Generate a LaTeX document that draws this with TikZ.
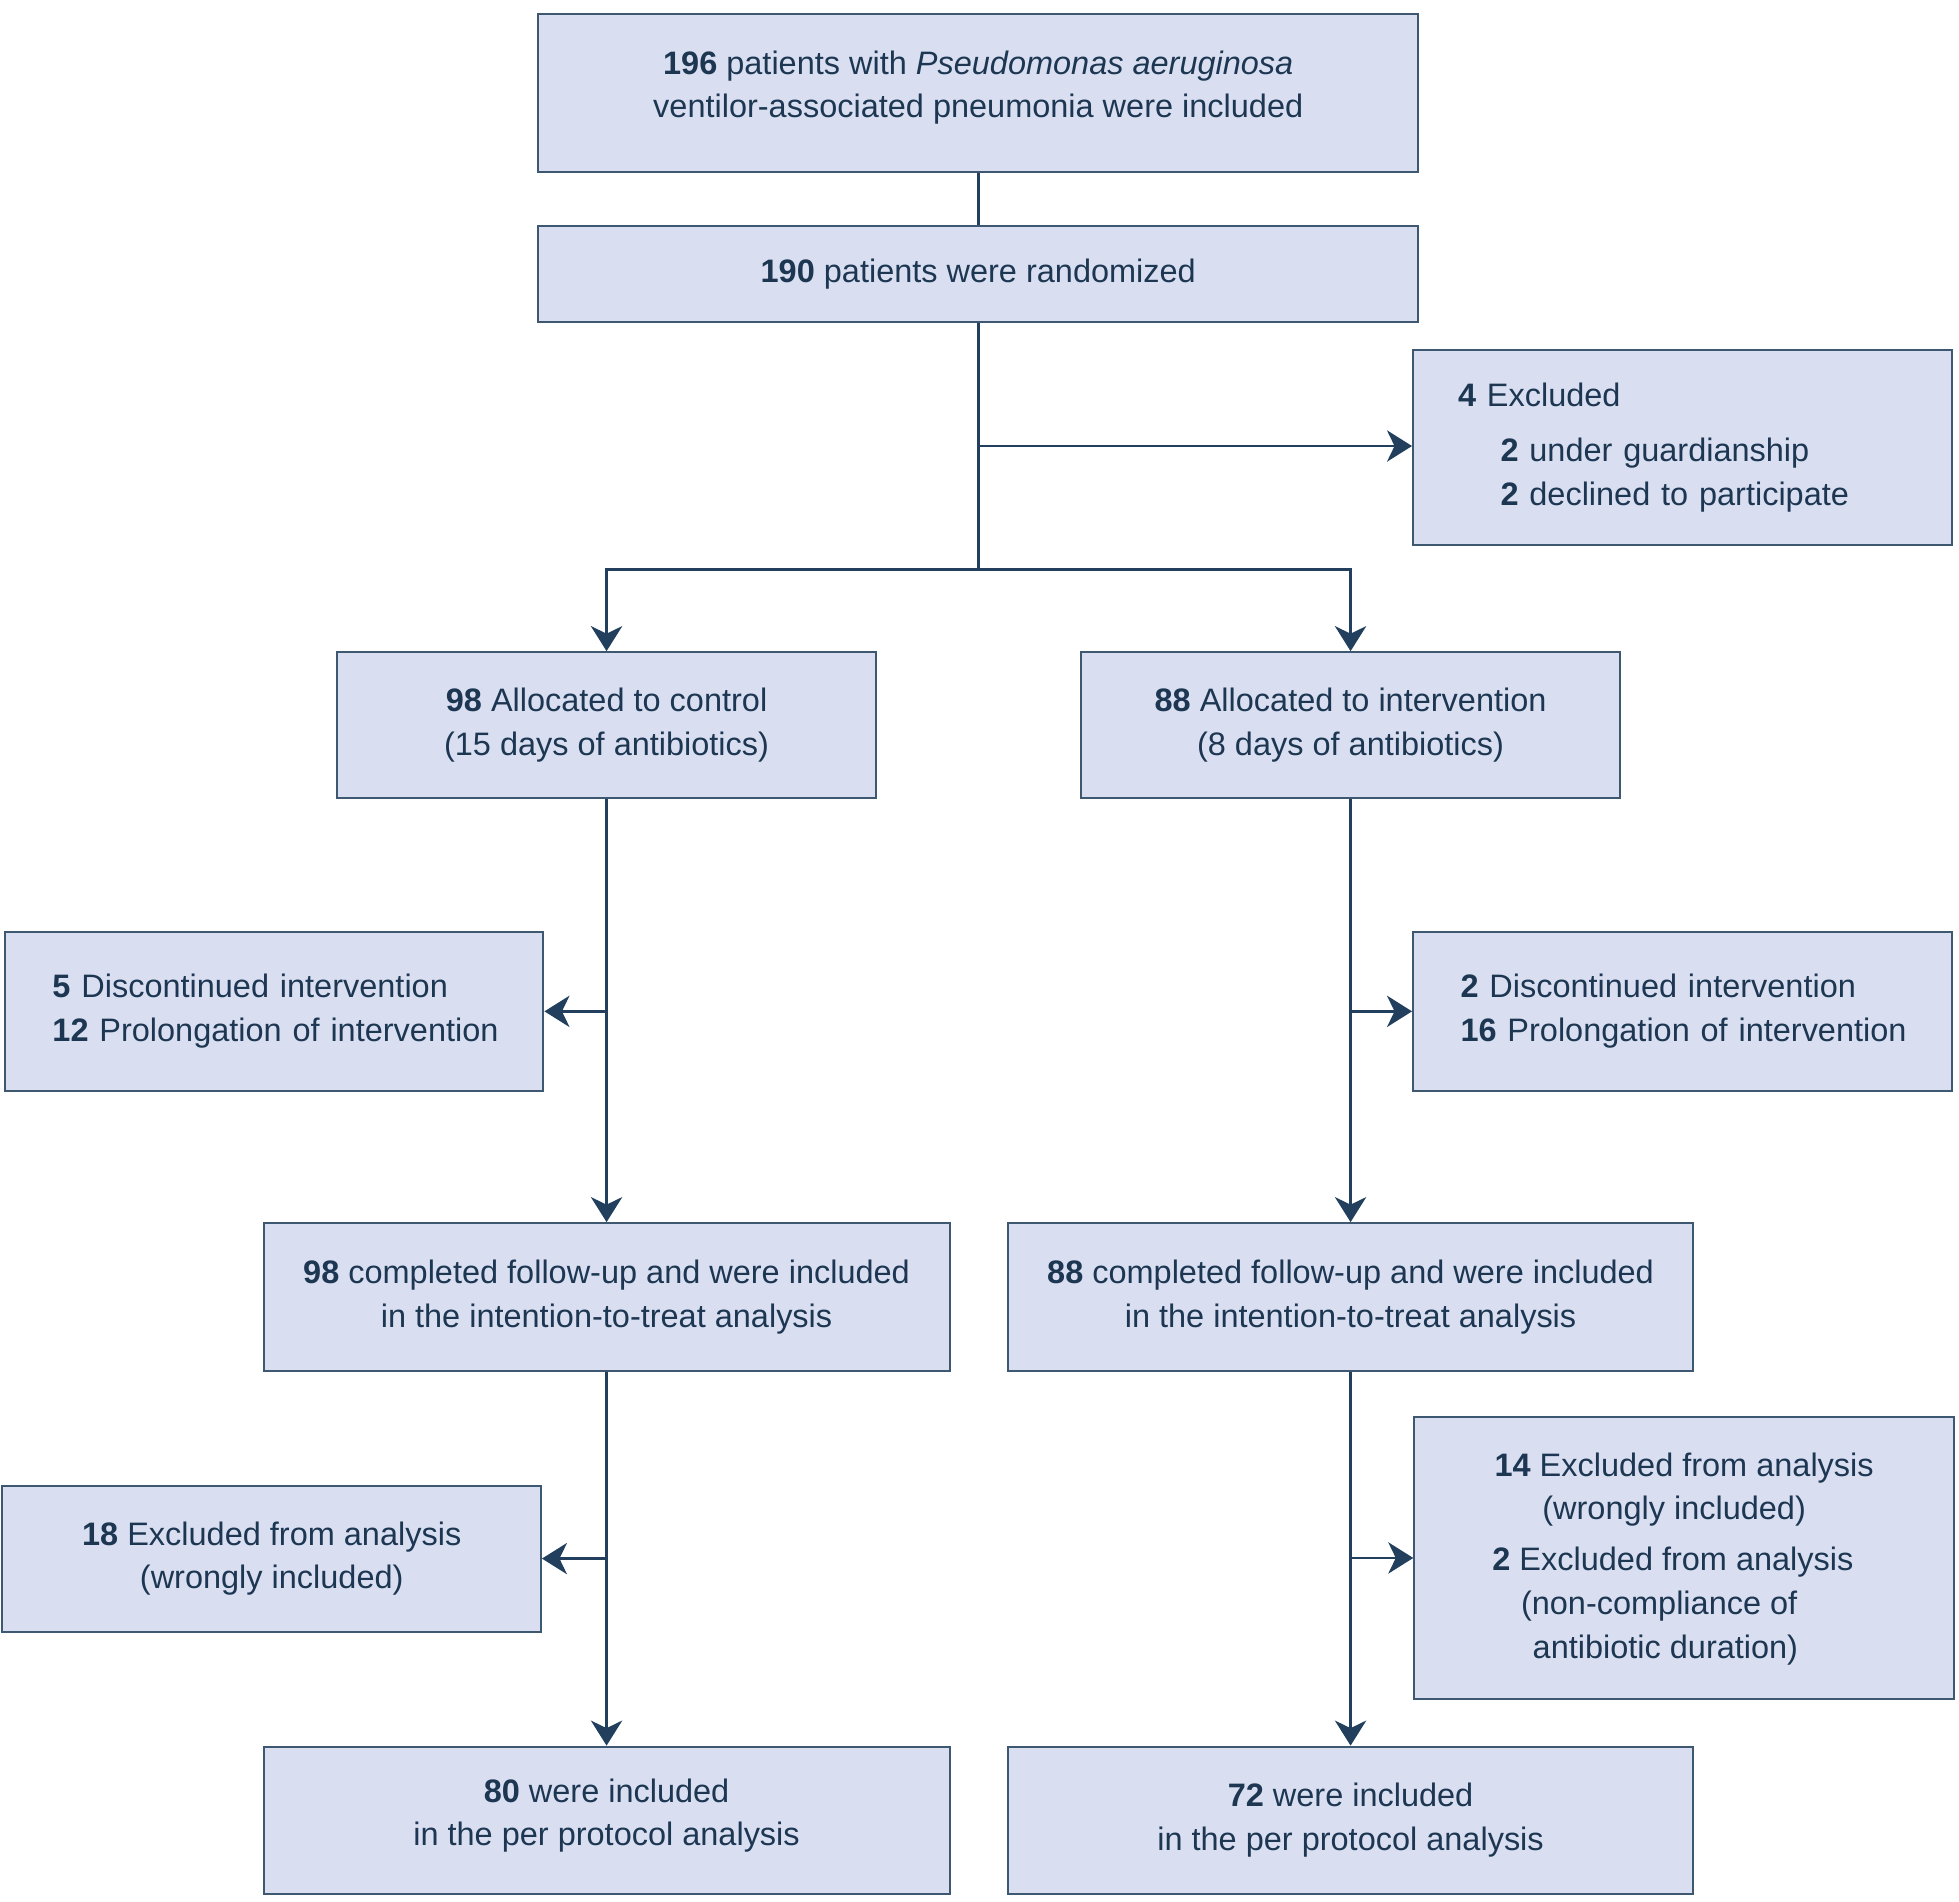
\documentclass[tikz,border=0pt]{standalone}
\usepackage{fontspec}
\setmainfont{Liberation Sans}
\usetikzlibrary{arrows.meta}
\definecolor{boxfill}{HTML}{D9DFF1}
\definecolor{boxline}{HTML}{3F5871}
\definecolor{txtcol}{HTML}{1D3752}
\definecolor{conncol}{HTML}{22405D}
\newcommand{\padr}[1]{\rule{#1}{0pt}}
\tikzset{
  box/.style={draw=boxline, fill=boxfill, line width=1.6pt, text=txtcol,
    font=\fontsize{26}{35}\selectfont, inner sep=0pt, align=center},
  leftbox/.style={box, align=left},
  conn/.style={draw=conncol, line width=2.2pt},
  arr/.style={conn, -{Stealth[length=20pt, width=25pt, inset=6pt]}}
}
\begin{document}
\begin{tikzpicture}[x=1pt, y=-1pt]
\useasboundingbox (0,0) rectangle (1568,1522);
\node[box, minimum width=704pt, minimum height=127pt] (top) at (783,74.5)
  {\textbf{196} patients with \textit{Pseudomonas aeruginosa}\\ventilor-associated pneumonia were included\\[-21pt]};
\node[box, minimum width=704pt, minimum height=77pt] (rand) at (783,219.5)
  {\textbf{190} patients were randomized};
\node[leftbox, text width=431pt, minimum width=431pt, minimum height=156pt] (excl) at (1346.5,358)
  {\hspace*{36pt}\textbf{4} Excluded\\[9pt]\hspace*{70pt}\textbf{2} under guardianship\\\hspace*{70pt}\textbf{2} declined to participate};
\node[box, minimum width=431pt, minimum height=117pt] (ctrl) at (485.5,580.5)
  {\textbf{98} Allocated to control\\(15 days of antibiotics)};
\node[box, minimum width=431pt, minimum height=117pt] (intv) at (1081,580.5)
  {\textbf{88} Allocated to intervention\\(8 days of antibiotics)};
\node[leftbox, text width=431pt, minimum width=431pt, minimum height=127pt] (discL) at (219.5,809.5)
  {\hspace*{38pt}\textbf{5} Discontinued intervention\\\hspace*{38pt}\textbf{12} Prolongation of intervention};
\node[leftbox, text width=431pt, minimum width=431pt, minimum height=127pt] (discR) at (1346.5,809.5)
  {\hspace*{38pt}\textbf{2} Discontinued intervention\\\hspace*{38pt}\textbf{16} Prolongation of intervention};
\node[box, minimum width=549pt, minimum height=118pt] (ittL) at (485.5,1038)
  {\textbf{98} completed follow-up and were included\\in the intention-to-treat analysis};
\node[box, minimum width=548pt, minimum height=118pt] (ittR) at (1081,1038)
  {\textbf{88} completed follow-up and were included\\in the intention-to-treat analysis};
\node[box, minimum width=431pt, minimum height=117pt] (exL) at (217.5,1247.5)
  {\textbf{18} Excluded from analysis\\(wrongly included)};
\node[box, minimum width=432pt, minimum height=226pt] (exR) at (1348,1247)
  {\textbf{14} Excluded from analysis\\(wrongly included)\padr{16pt}\\[6pt]\textbf{2} Excluded from analysis\padr{18pt}\\(non-compliance of\padr{40pt}\\antibiotic duration)\padr{30pt}\\[-31pt]};
\node[box, minimum width=549pt, minimum height=118pt] (ppL) at (485.5,1457)
  {\textbf{80} were included\\in the per protocol analysis\\[-22pt]};
\node[box, minimum width=548pt, minimum height=118pt] (ppR) at (1081,1457)
  {\textbf{72} were included\\in the per protocol analysis};
% connectors
\coordinate (split) at (783,456);
\coordinate (exbr) at (783,357);
\draw[conn] (top.south) -- (rand.north);
\draw[conn] (rand.south) -- (split);
\draw[arr] (exbr) -- (excl.west |- exbr);
\draw[arr] (split) -| (ctrl.north);
\draw[arr] (split) -| (intv.north);
\draw[arr] (ctrl.south) -- (ittL.north);
\draw[arr] (intv.south) -- (ittR.north);
\draw[arr] (ctrl.south |- discL.east) -- (discL.east);
\draw[arr] (intv.south |- discR.west) -- (discR.west);
\draw[arr] (ittL.south) -- (ppL.north);
\draw[arr] (ittR.south) -- (ppR.north);
\draw[arr] (ittL.south |- exL.east) -- (exL.east);
\draw[arr] (ittR.south |- exR.west) -- (exR.west);
\end{tikzpicture}
\end{document}
